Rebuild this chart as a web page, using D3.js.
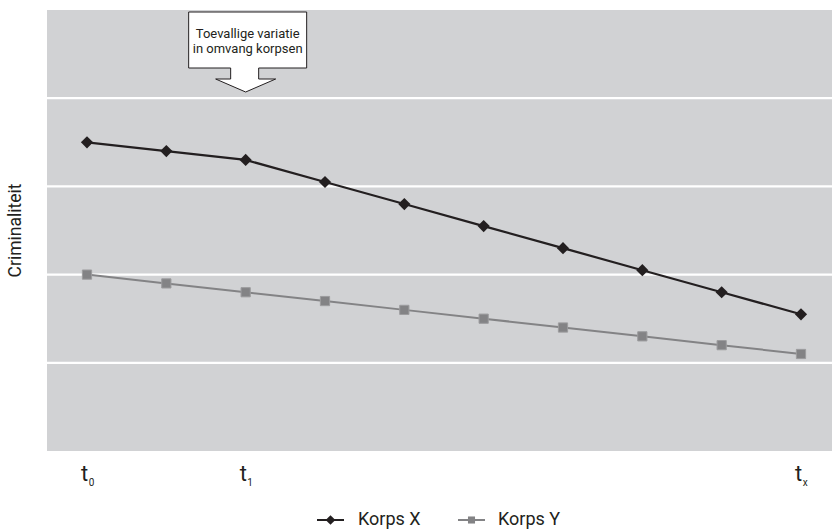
<!DOCTYPE html>
<html>
<head>
<meta charset="utf-8">
<script src="https://cdn.jsdelivr.net/npm/d3@7"></script>
<style>
  html, body { margin: 0; padding: 0; background: #fff; }
  svg { display: block; font-family: Roboto, "Liberation Sans", Arial, sans-serif; }
</style>
</head>
<body>
<svg id="chart" width="832" height="530"></svg>
<script>
// ---- data ----
const periods = [0, 1, 2, 3, 4, 5, 6, 7, 8, 9];
const korpsX = [3.50, 3.40, 3.30, 3.05, 2.80, 2.55, 2.30, 2.05, 1.80, 1.55];
const korpsY = [2.00, 1.90, 1.80, 1.70, 1.60, 1.50, 1.40, 1.30, 1.20, 1.10];
const gridValues = [1, 2, 3, 4];
const tickPeriods = [0, 2, 9];
const tickBase = ["t", "t", "t"];
const tickSub = ["0", "1", "x"];
const seriesNames = ["Korps X", "Korps Y"];
const yLabel = "Criminaliteit";
const calloutLines = ["Toevallige variatie", "in omvang korpsen"];
const calloutPeriod = 2;

// ---- layout ----
const W = 832, H = 530;
const plot = { left: 47, right: 832, top: 10, bottom: 451 };
const svg = d3.select("#chart");

const x = d3.scaleLinear().domain([0, 9]).range([87, 801]);
const y = d3.scaleLinear().domain([0, 5]).range([plot.bottom, plot.top]);

// background
svg.append("rect")
  .attr("x", plot.left).attr("y", plot.top)
  .attr("width", plot.right - plot.left).attr("height", plot.bottom - plot.top)
  .attr("fill", "#d1d2d4");

// gridlines
svg.append("g").selectAll("line").data(gridValues).join("line")
  .attr("x1", plot.left).attr("x2", plot.right)
  .attr("y1", d => y(d)).attr("y2", d => y(d))
  .attr("stroke", "#ffffff").attr("stroke-width", 2.2);

// x tick labels
const tl = svg.append("g").selectAll("text").data(tickPeriods).join("text")
  .attr("x", d => x(d) - 6).attr("y", 481)
  .attr("text-anchor", "start")
  .attr("fill", "#231f20")
  .attr("font-size", 22);
tl.append("tspan").text((d, i) => tickBase[i]);
tl.append("tspan").attr("dy", 5).attr("dx", 0.5).attr("font-size", 10).text((d, i) => tickSub[i]);

// y label
svg.append("text")
  .attr("transform", `translate(21,${(plot.top + plot.bottom) / 2}) rotate(-90)`)
  .attr("text-anchor", "middle")
  .attr("font-size", 17.5)
  .attr("fill", "#231f20")
  .text(yLabel);

// lines
const line = d3.line().x((d, i) => x(periods[i])).y(d => y(d));
const diamond = d3.symbol().type(d3.symbolDiamond2).size(95);
const square = d3.symbol().type(d3.symbolSquare).size(85);

svg.append("path").datum(korpsY)
  .attr("d", line).attr("fill", "none")
  .attr("stroke", "#838385").attr("stroke-width", 2);
svg.append("g").selectAll("path").data(korpsY).join("path")
  .attr("transform", (d, i) => `translate(${x(periods[i])},${y(d)})`)
  .attr("d", square)
  .attr("fill", "#838385").attr("stroke", "#9c9c9e").attr("stroke-width", 1);

svg.append("path").datum(korpsX)
  .attr("d", line).attr("fill", "none")
  .attr("stroke", "#231f20").attr("stroke-width", 2.2);
svg.append("g").selectAll("path").data(korpsX).join("path")
  .attr("transform", (d, i) => `translate(${x(periods[i])},${y(d)})`)
  .attr("d", diamond)
  .attr("fill", "#231f20");

// callout arrow
const tipX = x(calloutPeriod), tipY = 92;
const shape = [
  [-57, -80], [61, -80], [61, -24], [13, -24], [13, -13], [30, -13],
  [0, 0], [-30, -13], [-15, -13], [-15, -24], [-57, -24]
];
svg.append("path")
  .attr("d", d3.line()(shape.map(p => [tipX + p[0], tipY + p[1]])) + "Z")
  .attr("fill", "#ffffff").attr("stroke", "#231f20").attr("stroke-width", 1);
svg.append("g").selectAll("text").data(calloutLines).join("text")
  .attr("x", tipX + 2).attr("y", (d, i) => 38 + i * 15)
  .attr("text-anchor", "middle")
  .attr("font-size", 13)
  .attr("fill", "#231f20")
  .text(d => d);

// legend
const legend = svg.append("g");
const legItems = [
  { x0: 317, color: "#231f20", tx: 358 },
  { x0: 458, color: "#838385", tx: 498 }
];
legItems.forEach((it, i) => {
  const g = legend.append("g");
  g.append("line").attr("x1", it.x0).attr("x2", it.x0 + 27)
    .attr("y1", 520).attr("y2", 520)
    .attr("stroke", it.color).attr("stroke-width", 2);
  g.append("path").attr("transform", `translate(${it.x0 + 13.5},520)`)
    .attr("d", i === 0 ? d3.symbol().type(d3.symbolDiamond2).size(60) : d3.symbol().type(d3.symbolSquare).size(50))
    .attr("fill", it.color);
  g.append("text").attr("x", it.tx).attr("y", 525)
    .attr("font-size", 18).attr("fill", "#231f20")
    .text(seriesNames[i]);
});
</script>
</body>
</html>
